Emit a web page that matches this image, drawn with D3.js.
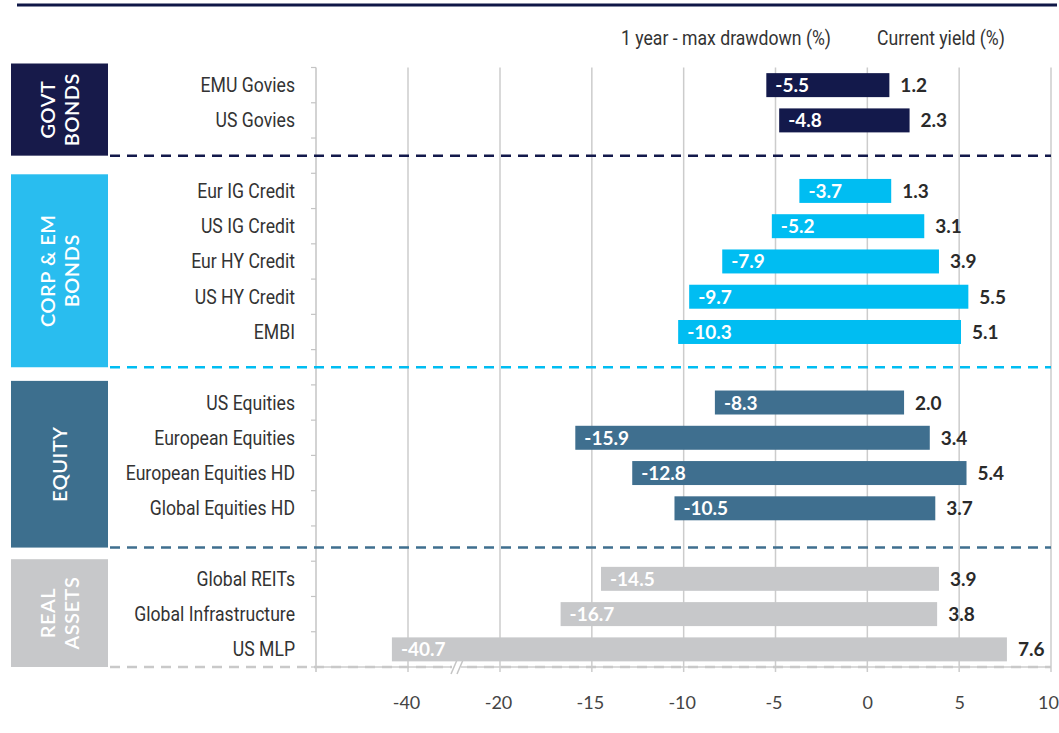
<!DOCTYPE html>
<html>
<head>
<meta charset="utf-8">
<script src="https://cdn.jsdelivr.net/npm/d3@7"></script>
<style>
  body { margin: 0; background: #fff; }
  .cond { font-family: Roboto, "Open Sans", sans-serif; }
  .num { font-family: Lato, "Open Sans", sans-serif; }
</style>
</head>
<body>
<svg id="chart" width="1059" height="733"></svg>
<script>
// data
var categories = ["EMU Govies", "US Govies",
  "Eur IG Credit", "US IG Credit", "Eur HY Credit", "US HY Credit", "EMBI",
  "US Equities", "European Equities", "European Equities HD", "Global Equities HD",
  "Global REITs", "Global Infrastructure", "US MLP"];
var drawdown = [-5.5, -4.8, -3.7, -5.2, -7.9, -9.7, -10.3, -8.3, -15.9, -12.8, -10.5, -14.5, -16.7, -40.7];
var yields = [1.2, 2.3, 1.3, 3.1, 3.9, 5.5, 5.1, 2.0, 3.4, 5.4, 3.7, 3.9, 3.8, 7.6];
var groupOf = [0, 0, 1, 1, 1, 1, 1, 2, 2, 2, 2, 3, 3, 3];
var groupNames = [["GOVT", "BONDS"], ["CORP & EM", "BONDS"], ["EQUITY"], ["REAL", "ASSETS"]];
var groupColors = ["#13194b", "#00bdf2", "#3f6f8f", "#c7c8ca"];
var boxColors = ["#171a4a", "#29bdef", "#3d6f8e", "#c7c8ca"];
var tickVals = [-40, -20, -15, -10, -5, 0, 5, 10];

var svg = d3.select("#chart");
var squeeze = 0.84; // no condensed font installed, so narrow it by hand

function condText(sel, x, y, anchor, size) {
  return sel.append("text").attr("class", "cond")
    .attr("transform", "translate(" + x + "," + y + ") scale(" + squeeze + ",1)")
    .attr("text-anchor", anchor)
    .style("font-size", size + "px").style("fill", "#333");
}

// top rule
svg.append("line")
  .attr("x1", 17).attr("x2", 1057).attr("y1", 5).attr("y2", 5)
  .attr("stroke", "#0f1747").attr("stroke-width", 3);

// header labels
condText(svg, 726, 45, "middle", 21).text("1 year - max drawdown (%)");
condText(svg, 941, 45, "middle", 21).text("Current yield (%)");

// slots: rows plus a spacer between groups
var slots = [];
categories.forEach(function(c, i) {
  if (i > 0 && groupOf[i] != groupOf[i - 1]) slots.push("gap" + groupOf[i]);
  slots.push(c);
});

var yTop = 67.5, yBottom = 667;
var y = d3.scaleBand().domain(slots).range([yTop, yBottom]).paddingInner(0.32).paddingOuter(0.16);
var step = y.step();

// broken axis: -40..-20 squeezed into one gridline step
var x = d3.scaleLinear().domain([-44, -40, -20, 10]).range([316, 408, 500, 1051]);

// vertical gridlines
svg.append("g").selectAll("line").data(tickVals).enter().append("line")
  .attr("x1", d => x(d)).attr("x2", d => x(d))
  .attr("y1", yTop).attr("y2", yBottom + 5)
  .attr("stroke", "#cccccc").attr("stroke-width", 1.5);

// left axis with slot ticks
svg.append("line").attr("x1", 316).attr("x2", 316).attr("y1", yTop).attr("y2", yBottom + 5)
  .attr("stroke", "#c4c4c4").attr("stroke-width", 1.5);
var bounds = d3.range(slots.length + 1).map(i => yTop + i * step);
svg.append("g").selectAll("line").data(bounds).enter().append("line")
  .attr("x1", 311).attr("x2", 316).attr("y1", d => d).attr("y2", d => d)
  .attr("stroke", "#c4c4c4").attr("stroke-width", 1.2);

// bottom axis
var xAxis = svg.append("g")
  .attr("transform", "translate(0," + yBottom + ")")
  .call(d3.axisBottom(x).tickValues(tickVals).tickSize(0).tickPadding(29).tickFormat(d3.format("d")));
xAxis.select(".domain").attr("stroke", "#cccccc").attr("stroke-width", 1.5).attr("d", "M316,0H1051");
xAxis.selectAll("text").attr("class", "num").style("font-size", "18px").style("fill", "#444")
  .attr("dx", d => d == 10 ? -3 : (d < 0 ? -2 : 0))
  .text(d => d < 0 ? "-" + Math.abs(d) : d);

// group boxes and separators
var sepShift = [0, 0, 4, 0];
var topShift = [0, 5, 0, 2];
d3.range(groupNames.length).forEach(function(g) {
  var rows = categories.filter((c, i) => groupOf[i] == g);
  var y0 = y(rows[0]) - y.paddingInner() * step / 2 - 4 + topShift[g];
  var sepY = g < groupNames.length - 1 ? y("gap" + (g + 1)) + y.bandwidth() / 2 + sepShift[g] : yBottom;
  svg.append("rect")
    .attr("x", 11).attr("y", y0).attr("width", 97).attr("height", sepY - y0)
    .attr("fill", boxColors[g]);
  svg.append("line")
    .attr("x1", 110).attr("x2", 1051).attr("y1", sepY).attr("y2", sepY)
    .attr("stroke", g == 3 ? "#c9c9c9" : groupColors[g]).attr("stroke-width", 2.5)
    .attr("stroke-dasharray", "10,7");
  var cx = 59.5, cy = (y0 + sepY) / 2;
  var lines = groupNames[g];
  var t = svg.append("text").attr("class", "num")
    .attr("transform", "translate(" + cx + "," + cy + ") rotate(-90)")
    .attr("text-anchor", "middle")
    .style("font-size", "20px").style("font-weight", 600).style("fill", "#fff").style("letter-spacing", "0.5px");
  lines.forEach(function(l, k) {
    t.append("tspan").attr("x", 0)
      .attr("dy", k == 0 ? (lines.length == 1 ? 7 : -5) : 24)
      .text(l);
  });
});

// axis break mark
svg.append("rect").attr("x", 452).attr("y", yBottom - 2).attr("width", 9).attr("height", 4).attr("fill", "#fff");
svg.append("g").selectAll("line").data([0, 6]).enter().append("line")
  .attr("x1", d => 451 + d).attr("x2", d => 457 + d)
  .attr("y1", yBottom + 7).attr("y2", yBottom - 7)
  .attr("stroke", "#c4c4c4").attr("stroke-width", 1.5);

// category labels
var catG = svg.append("g");
categories.forEach(function(c) {
  condText(catG, 295, y(c) + y.bandwidth() / 2 + 7, "end", 21).text(c);
});

// bars
svg.append("g").selectAll("rect").data(categories).enter().append("rect")
  .attr("x", (d, i) => x(drawdown[i]))
  .attr("y", d => y(d))
  .attr("width", (d, i) => x(yields[i]) - x(drawdown[i]))
  .attr("height", y.bandwidth())
  .attr("fill", (d, i) => groupColors[groupOf[i]]);

// drawdown labels (inside bars)
svg.append("g").selectAll("text").data(categories).enter().append("text")
  .attr("class", "num")
  .attr("x", (d, i) => x(drawdown[i]) + 9)
  .attr("y", d => y(d) + y.bandwidth() / 2 + 7)
  .style("font-size", "19px").style("font-weight", 700).style("fill", "#fff")
  .text((d, i) => drawdown[i].toFixed(1));

// yield labels
svg.append("g").selectAll("text").data(categories).enter().append("text")
  .attr("class", "num")
  .attr("x", (d, i) => x(yields[i]) + 11)
  .attr("y", d => y(d) + y.bandwidth() / 2 + 7)
  .style("font-size", "19px").style("font-weight", 700).style("fill", "#2a2a2a")
  .text((d, i) => yields[i].toFixed(1));
</script>
</body>
</html>
